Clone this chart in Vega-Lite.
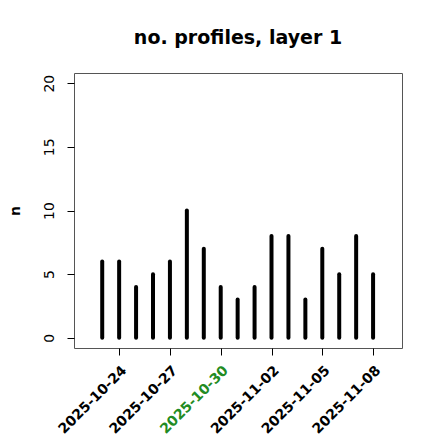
{
  "$schema": "https://vega.github.io/schema/vega-lite/v6.json",
  "autosize": {"type": "none"},
  "width": 328,
  "height": 275,
  "padding": {"left": 74, "top": 73, "right": 38, "bottom": 92},
  "background": "white",
  "config": {
    "font": "DejaVu Sans",
    "view": {"stroke": "#555555", "strokeWidth": 1},
    "axis": {"grid": false, "domain": false, "tickColor": "black", "tickSize": 7, "labelColor": "black", "titleColor": "black"}
  },
  "title": {"text": "no. profiles, layer 1", "fontSize": 19, "fontWeight": "bold", "font": "DejaVu Sans", "offset": 25, "color": "black"},
  "data": {"values": [
    {"date": "2025-10-23", "n": 6},
    {"date": "2025-10-24", "n": 6},
    {"date": "2025-10-25", "n": 4},
    {"date": "2025-10-26", "n": 5},
    {"date": "2025-10-27", "n": 6},
    {"date": "2025-10-28", "n": 10},
    {"date": "2025-10-29", "n": 7},
    {"date": "2025-10-30", "n": 4},
    {"date": "2025-10-31", "n": 3},
    {"date": "2025-11-01", "n": 4},
    {"date": "2025-11-02", "n": 8},
    {"date": "2025-11-03", "n": 8},
    {"date": "2025-11-04", "n": 3},
    {"date": "2025-11-05", "n": 7},
    {"date": "2025-11-06", "n": 5},
    {"date": "2025-11-07", "n": 8},
    {"date": "2025-11-08", "n": 5}
  ]},
  "mark": {"type": "rule", "strokeWidth": 4, "strokeCap": "round", "color": "black"},
  "encoding": {
    "x": {
      "field": "date", "type": "temporal",
      "scale": {"type": "utc", "domain": [{"year": 2025, "month": 10, "date": 21, "hours": 8, "utc": true}, {"year": 2025, "month": 11, "date": 9, "hours": 17, "utc": true}]},
      "axis": {
        "title": null,
        "values": [
          {"year": 2025, "month": 10, "date": 24, "utc": true},
          {"year": 2025, "month": 10, "date": 27, "utc": true},
          {"year": 2025, "month": 10, "date": 30, "utc": true},
          {"year": 2025, "month": 11, "date": 2, "utc": true},
          {"year": 2025, "month": 11, "date": 5, "utc": true},
          {"year": 2025, "month": 11, "date": 8, "utc": true}
        ],
        "labelExpr": "utcFormat(datum.value, '%Y-%m-%d')",
        "labelOverlap": false,
        "labelAngle": -45,
        "labelAlign": "right",
        "labelBaseline": "top",
        "labelFontWeight": "bold",
        "labelFontSize": 14,
        "labelPadding": 8,
        "labelColor": {"condition": {"test": "utcFormat(datum.value, '%Y-%m-%d') == '2025-10-30'", "value": "#228B22"}, "value": "black"}
      }
    },
    "y": {
      "field": "n", "type": "quantitative",
      "scale": {"domain": [-0.8, 20.8], "nice": false, "zero": false},
      "axis": {
        "title": "n",
        "values": [0, 5, 10, 15, 20],
        "labelAngle": -90,
        "labelAlign": "center",
        "labelBaseline": "bottom",
        "labelFontSize": 14,
        "labelPadding": 11,
        "titleFontWeight": "bold",
        "titleFontSize": 14,
        "titlePadding": 20
      }
    },
    "y2": {"datum": 0}
  }
}
